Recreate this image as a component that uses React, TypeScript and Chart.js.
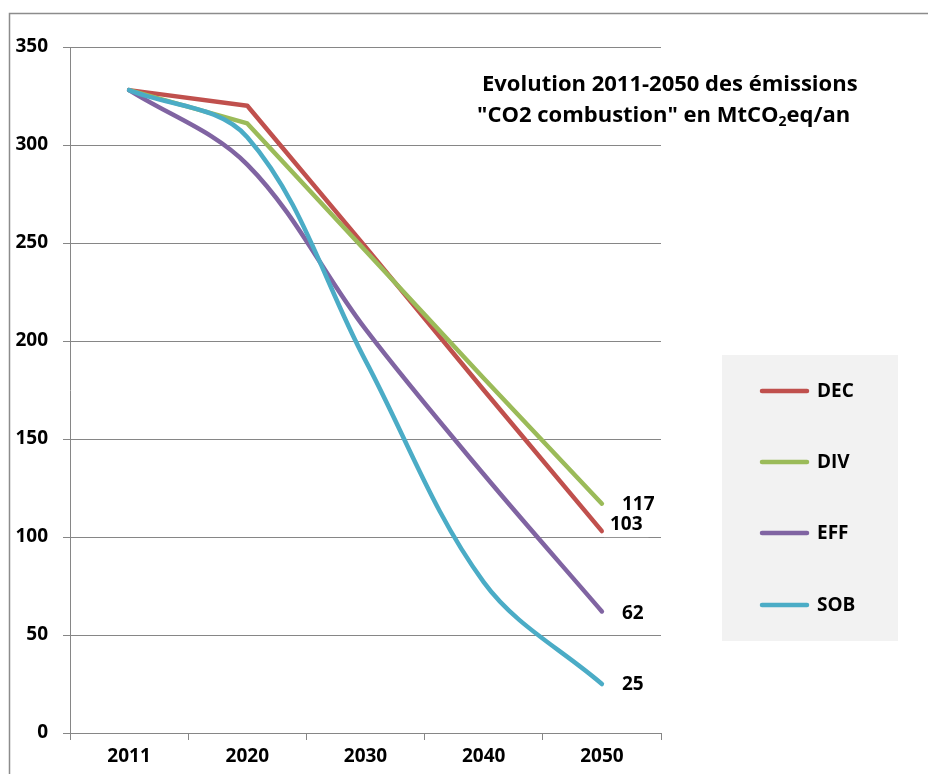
import React, { useEffect, useRef } from "react";
import { Chart, registerables } from "chart.js";

Chart.register(...registerables);

// ---- data ----
const categories = ["2011", "2020", "2030", "2040", "2050"];
const seriesNames = ["DEC", "DIV", "EFF", "SOB"];
const decValues = [328, 320, 248, 175, 103];
const divValues = [328, 311, 246, 181, 117];
const effValues = [328, 290, 206, 132, 62];
const sobValues = [328, 304, 190, 77, 25];
const yMin = 0;
const yMax = 350;
const yStep = 50;
const titleLine1 = "Evolution 2011-2050 des émissions";
const titleLine2Parts = ['"CO2 combustion" en MtCO', "2", "eq/an"];

// ---- styles ----
const seriesColors = ["#C0504D", "#9BBB59", "#8064A2", "#4BACC6"];
const seriesTension = [0, 0, 0.35, 0.35];
const seriesOrder = [3, 2, 1, 0];
const labelDx = [8, 20, 20, 20];
const labelDy = [-7, 1, 2, 1];
const labelBg = [true, false, false, false];
const FONT = "'Open Sans', 'Noto Sans', sans-serif";
const GRID = "#868686";

const framePlugin = {
  id: "frame",
  beforeDraw(chart: any) {
    const ctx = chart.ctx;
    ctx.save();
    ctx.fillStyle = "#ffffff";
    ctx.fillRect(0, 0, chart.width, chart.height);
    ctx.strokeStyle = "#8c8c8c";
    ctx.lineWidth = 1.5;
    ctx.beginPath();
    ctx.moveTo(9.5, chart.height);
    ctx.lineTo(9.5, 13.5);
    ctx.lineTo(chart.width, 13.5);
    ctx.stroke();
    ctx.restore();
  },
};

const titlePlugin = {
  id: "customTitle",
  afterDraw(chart: any) {
    const ctx = chart.ctx;
    ctx.save();
    ctx.fillStyle = "#000";
    ctx.textBaseline = "alphabetic";
    ctx.textAlign = "left";
    ctx.font = `bold 22px ${FONT}`;
    ctx.fillText(titleLine1, 482, 91);
    let x = 477;
    const base = 122;
    ctx.fillText(titleLine2Parts[0], x, base);
    x += ctx.measureText(titleLine2Parts[0]).width;
    ctx.font = `bold 14px ${FONT}`;
    ctx.fillText(titleLine2Parts[1], x, base + 4);
    x += ctx.measureText(titleLine2Parts[1]).width;
    ctx.font = `bold 22px ${FONT}`;
    ctx.fillText(titleLine2Parts[2], x, base);
    ctx.restore();
  },
};

const legendPlugin = {
  id: "customLegend",
  afterDraw(chart: any) {
    const ctx = chart.ctx;
    ctx.save();
    ctx.fillStyle = "#f2f2f2";
    ctx.fillRect(722, 355, 176, 286);
    const rows = [391, 462, 533, 605];
    chart.data.datasets.forEach((ds: any, i: number) => {
      const y = rows[i];
      ctx.strokeStyle = ds.borderColor;
      ctx.lineWidth = 4.5;
      ctx.lineCap = "round";
      ctx.beginPath();
      ctx.moveTo(762, y);
      ctx.lineTo(807, y);
      ctx.stroke();
      ctx.fillStyle = "#000";
      ctx.font = `bold 19px ${FONT}`;
      ctx.textBaseline = "middle";
      ctx.textAlign = "left";
      ctx.fillText(ds.label, 817, y + 1);
    });
    ctx.restore();
  },
};

const endLabelPlugin = {
  id: "endLabels",
  afterDatasetsDraw(chart: any) {
    const ctx = chart.ctx;
    ctx.save();
    ctx.font = `bold 19px ${FONT}`;
    ctx.textBaseline = "middle";
    ctx.textAlign = "left";
    chart.data.datasets.forEach((ds: any, i: number) => {
      const meta = chart.getDatasetMeta(i);
      const last = meta.data.length - 1;
      const el = meta.data[last];
      const txt = String(ds.data[last]);
      const x = el.x + labelDx[i];
      const y = el.y + labelDy[i];
      if (labelBg[i]) {
        const w = ctx.measureText(txt).width;
        ctx.fillStyle = "#ffffff";
        ctx.fillRect(x - 6, y - 11, w + 12, 24);
      }
      ctx.fillStyle = "#000";
      ctx.fillText(txt, x, y);
    });
    ctx.restore();
  },
};

export default function App() {
  const canvasRef = useRef<HTMLCanvasElement | null>(null);

  useEffect(() => {
    if (!canvasRef.current) return;
    const values = [decValues, divValues, effValues, sobValues];
    const chart = new Chart(canvasRef.current, {
      type: "line",
      data: {
        labels: categories,
        datasets: seriesNames.map((name, i) => ({
          label: name,
          data: values[i],
          borderColor: seriesColors[i],
          backgroundColor: seriesColors[i],
          borderWidth: 4.5,
          borderCapStyle: "round",
          borderJoinStyle: "round",
          pointRadius: 0,
          pointHoverRadius: 0,
          tension: seriesTension[i],
          order: seriesOrder[i],
          fill: false,
        })),
      },
      options: {
        responsive: false,
        animation: false,
        devicePixelRatio: 1,
        layout: { padding: { left: 0, top: 47, right: 267, bottom: 0 } },
        plugins: {
          legend: { display: false },
          title: { display: false },
          tooltip: { enabled: false },
        },
        scales: {
          x: {
            type: "category",
            offset: true,
            grid: {
              display: true,
              drawOnChartArea: false,
              drawTicks: true,
              tickLength: 7,
              color: GRID,
              offset: true,
            },
            border: { display: true, color: GRID, width: 1 },
            ticks: {
              color: "#000",
              font: { family: FONT, weight: "bold", size: 19 },
              padding: 5,
              maxRotation: 0,
              autoSkip: false,
            },
            afterFit: (s: any) => {
              s.height = 41;
            },
          },
          y: {
            min: yMin,
            max: yMax,
            grid: { color: GRID, tickLength: 7, lineWidth: 1 },
            border: { display: true, color: GRID, width: 1 },
            ticks: {
              stepSize: yStep,
              color: "#000",
              font: { family: FONT, weight: "bold", size: 19 },
              padding: 15,
            },
            afterFit: (s: any) => {
              s.width = 70;
            },
          },
        },
      } as any,
      plugins: [framePlugin, endLabelPlugin, legendPlugin, titlePlugin],
    });
    return () => chart.destroy();
  }, []);

  return (
    <div style={{ position: "absolute", left: 0, top: 0, width: 928, height: 774 }}>
      <canvas ref={canvasRef} width={928} height={774} style={{ display: "block" }} />
    </div>
  );
}
